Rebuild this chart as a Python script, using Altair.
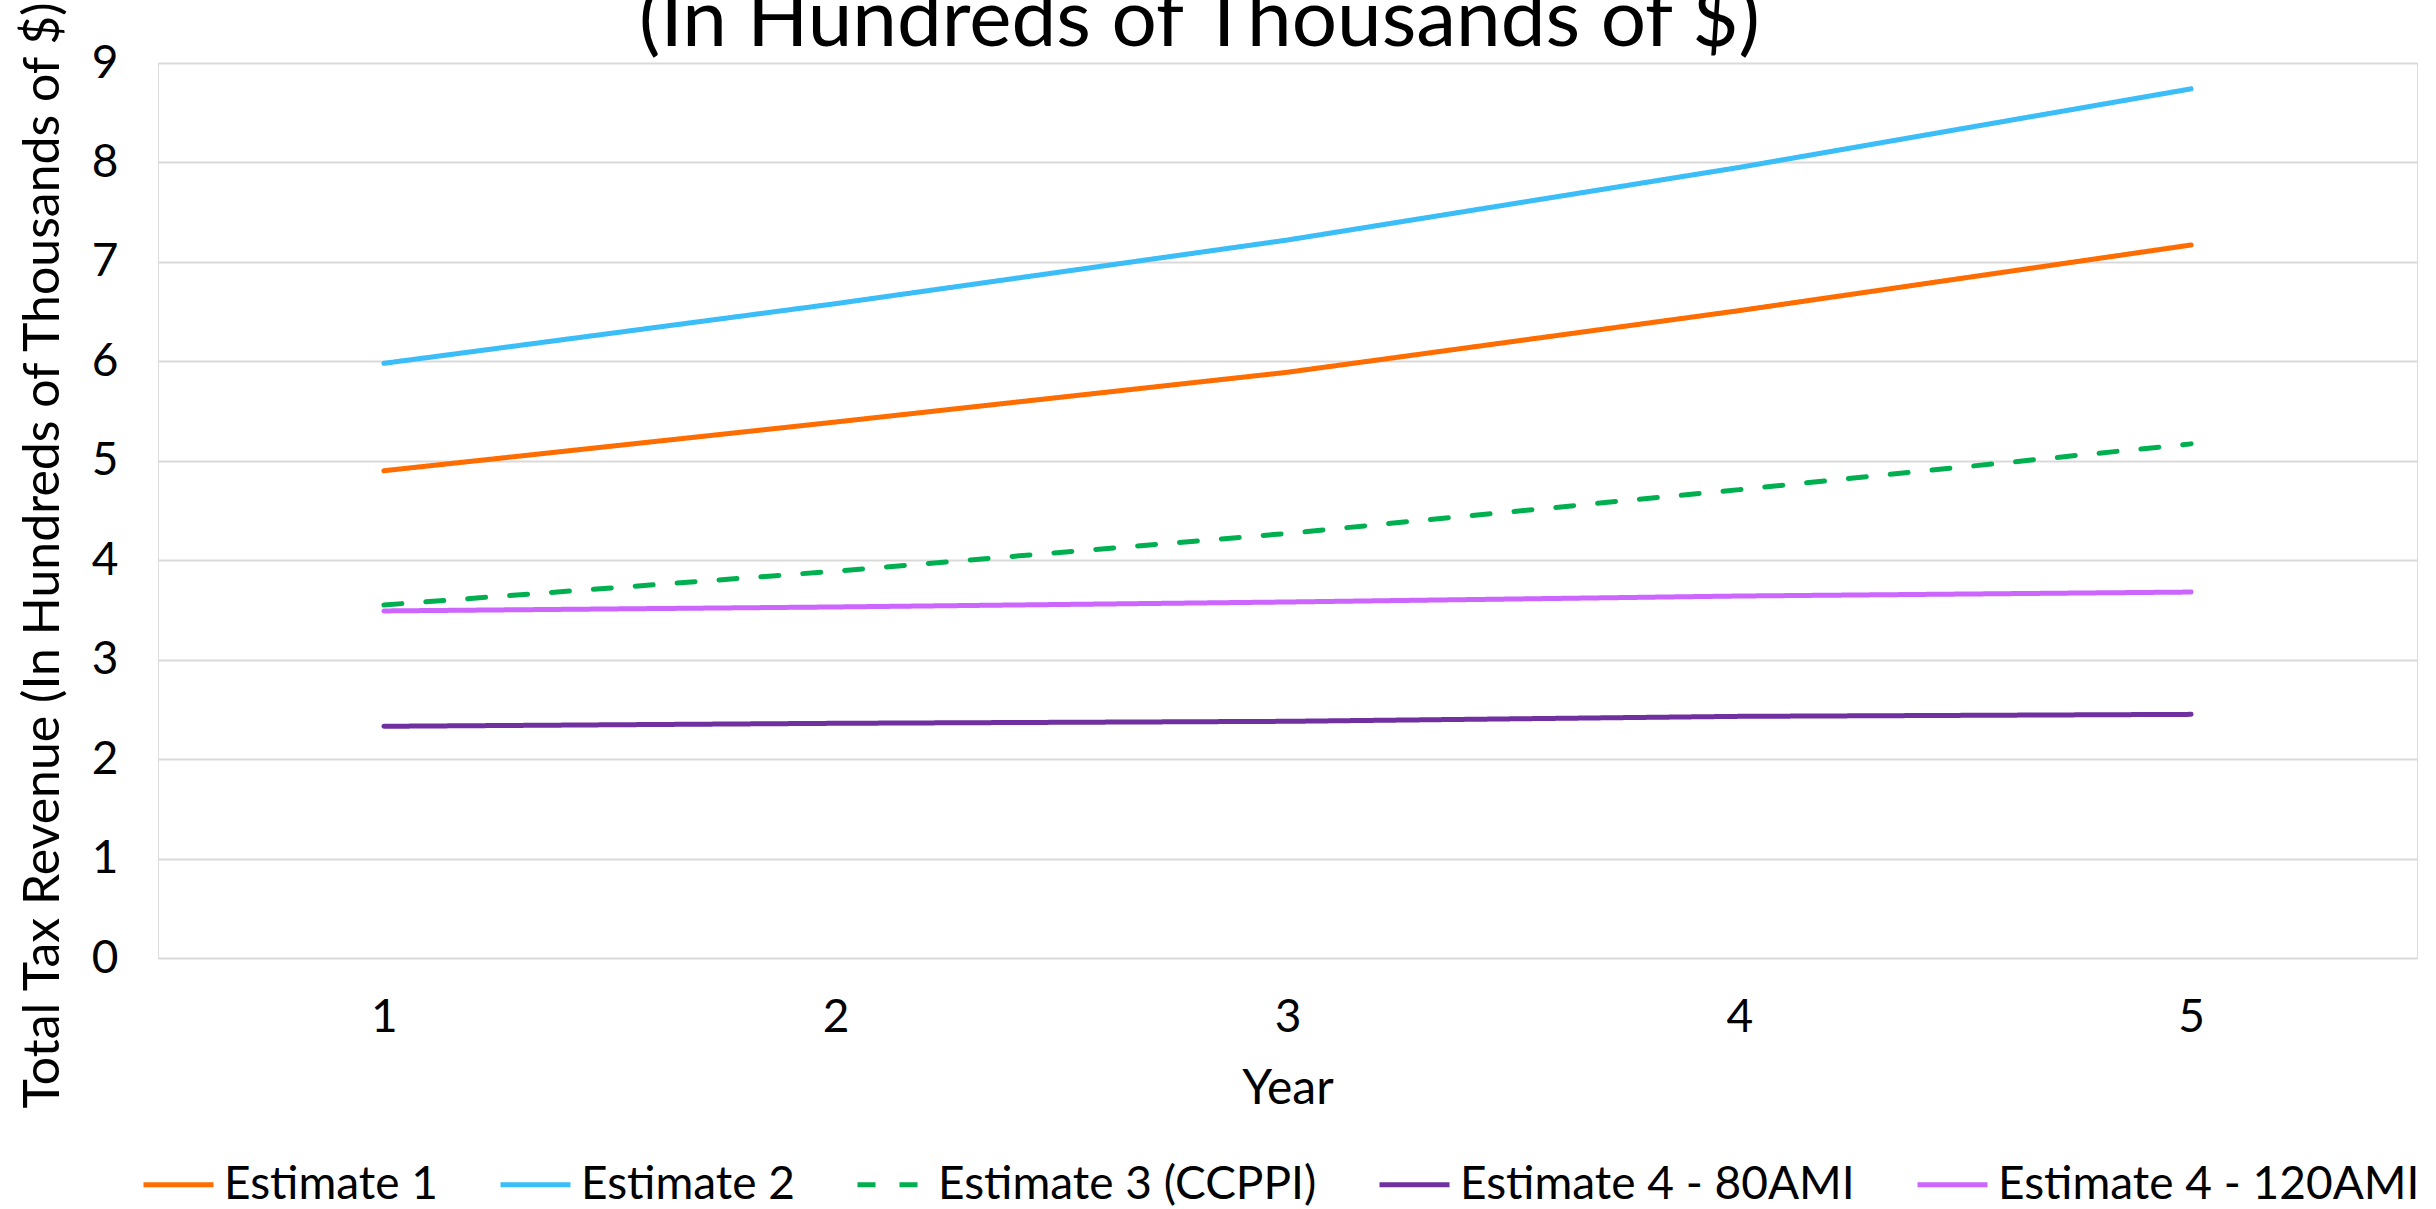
import altair as alt
import pandas as pd

years = [1, 2, 3, 4, 5]
series_names = ["Estimate 1", "Estimate 2", "Estimate 3 (CCPPI)", "Estimate 4 - 80AMI", "Estimate 4 - 120AMI"]
est1 = [4.90, 5.39, 5.89, 6.51, 7.17]
est2 = [5.98, 6.58, 7.22, 7.95, 8.74]
est3 = [3.55, 3.89, 4.27, 4.71, 5.17]
est4_80 = [2.33, 2.36, 2.38, 2.43, 2.45]
est4_120 = [3.49, 3.53, 3.58, 3.64, 3.68]
colors = ["#FF6D00", "#3BBDF7", "#00B050", "#7030A0", "#CC66FF"]
dashes = [[1, 0], [1, 0], [18, 24], [1, 0], [1, 0]]

rows = []
for name, vals in zip(series_names, [est1, est2, est3, est4_80, est4_120]):
    for y, v in zip(years, vals):
        rows.append({"Year": y, "Series": name, "Value": v})
df = pd.DataFrame(rows)

FONT = "Lato"

def make_legend():
    return alt.Legend(title=None, orient="none", direction="horizontal",
                      legendX=-17, legendY=1084,
                      symbolType="stroke", symbolSize=4900, symbolStrokeWidth=5,
                      labelFontSize=46, labelFont=FONT, labelColor="black",
                      labelOffset=8, columnPadding=52, labelLimit=1000)

chart = alt.Chart(df).mark_line(strokeWidth=5, strokeCap="round", strokeJoin="round").encode(
    x=alt.X("Year:Q",
            scale=alt.Scale(domain=[0.5, 5.5], nice=False, zero=False),
            axis=alt.Axis(values=years, format="d", grid=False, domain=False, ticks=False,
                          labelFontSize=46, labelFont=FONT, labelColor="black",
                          labelPadding=37, title="Year", titleFontSize=48, titleFont=FONT,
                          titleFontWeight="normal", titleColor="black", titlePadding=25)),
    y=alt.Y("Value:Q",
            scale=alt.Scale(domain=[0, 9], nice=False),
            axis=alt.Axis(values=list(range(10)), grid=True, gridColor="#D9D9D9", gridWidth=2,
                          domain=False, ticks=False, labelFontSize=46, labelFont=FONT,
                          labelColor="black", labelPadding=40,
                          title="Total Tax Revenue (In Hundreds of Thousands of $)",
                          titleFontSize=50, titleFont=FONT, titleFontWeight="normal",
                          titleColor="black", titleX=-115, titleY=492,
                          titleBaseline="middle", titleAngle=270)),
    color=alt.Color("Series:N", sort=series_names,
                    scale=alt.Scale(domain=series_names, range=colors),
                    legend=make_legend()),
    strokeDash=alt.StrokeDash("Series:N", sort=series_names,
                              scale=alt.Scale(domain=series_names, range=dashes),
                              legend=make_legend()),
).properties(
    width=2259,
    height=895,
    title=alt.TitleParams(text="(In Hundreds of Thousands of $)", fontSize=80, font=FONT,
                          fontWeight="normal", color="black", anchor="middle", dx=-88,
                          baseline="alphabetic", offset=5, dy=131),
    autosize=alt.AutoSizeParams(type="none"),
    padding={"left": 158, "top": 63, "right": 19, "bottom": 251},
).configure_view(stroke=None).configure(background="white")

chart.save("out.html", embed_options={"renderer": "svg", "actions": False})
